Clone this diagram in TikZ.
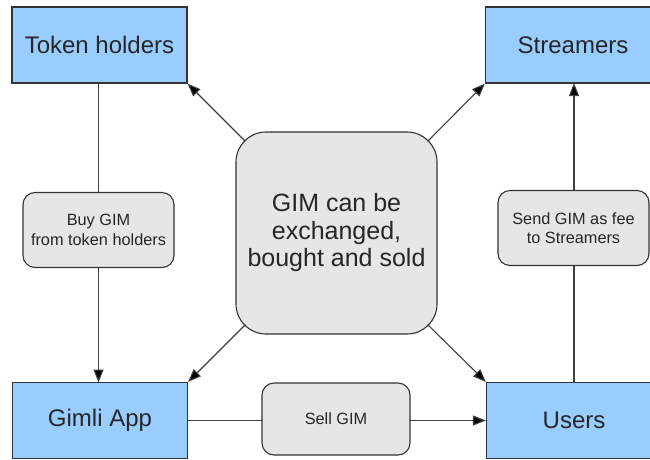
\documentclass[tikz,border=0pt]{standalone}
\usepackage{fontspec}
\setmainfont{Liberation Sans}
\usetikzlibrary{arrows.meta}
\definecolor{boxblue}{HTML}{99CCFF}
\definecolor{lblgray}{HTML}{E6E6E6}
\definecolor{edge}{HTML}{333333}
\begin{document}
\begin{tikzpicture}[x=1pt,y=-1pt,
  party/.style={draw=edge, line width=1.2pt, fill=boxblue, minimum width=175pt, minimum height=76pt, inner sep=0pt, font=\fontsize{24}{28}\selectfont, text=black!85},
  lbl/.style={draw=edge, line width=1.1pt, fill=lblgray, rounded corners=12pt, minimum width=151pt, minimum height=75pt, inner sep=0pt, align=center, font=\fontsize{16.3}{19.5}\selectfont, text=black!85},
  hub/.style={draw=edge, line width=1.1pt, fill=lblgray, rounded corners=30pt, minimum width=201pt, minimum height=202pt, inner sep=0pt, align=center, font=\fontsize{25}{27.5}\selectfont, text=black!85},
  arr/.style={draw=black!75, line width=1.1pt, -{Triangle[length=13pt,width=10pt,fill=black]}},
  plain/.style={draw=black!85, line width=1.1pt}
]
\useasboundingbox (0,0) rectangle (650,459);
\clip (0,0) rectangle (650,459);
\fill[white] (0,0) rectangle (650,459);

\node[party] (th) at (99.5,45) {Token holders};
\node[party] (st) at (573,45) {Streamers};
\node[party] (ga) at (100,420.5) {Gimli App};
\node[party] (us) at (574,420.5) {Users};
\node[hub] (hub) at (336.5,233) {GIM can be\\exchanged,\\bought and sold};

% vertical and horizontal flows
\coordinate (thb) at (98.5,83);
\coordinate (gat) at (98.5,382.5);
\draw[arr] (thb) -- (gat);
\node[lbl] (buy) at (98.5,230) {Buy GIM\\from token holders};

\coordinate (ust) at (574,382.5);
\coordinate (stb) at (574,83);
\draw[arr] (ust) -- (stb);
\node[lbl] (send) at (573.5,228) {Send GIM as fee\\to Streamers};

\draw[arr] (ga.east) -- (us.west);
\node[lbl, minimum width=148pt, minimum height=72pt] (sell) at (336,419) {Sell GIM};

% diagonals from hub
\draw[arr] (hub.north west) ++(10,10) coordinate (h1) (h1) -- (th.south east);
\draw[arr] (hub.north east) ++(-10,10) coordinate (h2) (h2) -- (st.south west);
\draw[arr] (hub.south west) ++(10,-10) coordinate (h3) (h3) -- (ga.north east);
\draw[arr] (hub.south east) ++(-10,-10) coordinate (h4) (h4) -- (us.north west);
\end{tikzpicture}
\end{document}
